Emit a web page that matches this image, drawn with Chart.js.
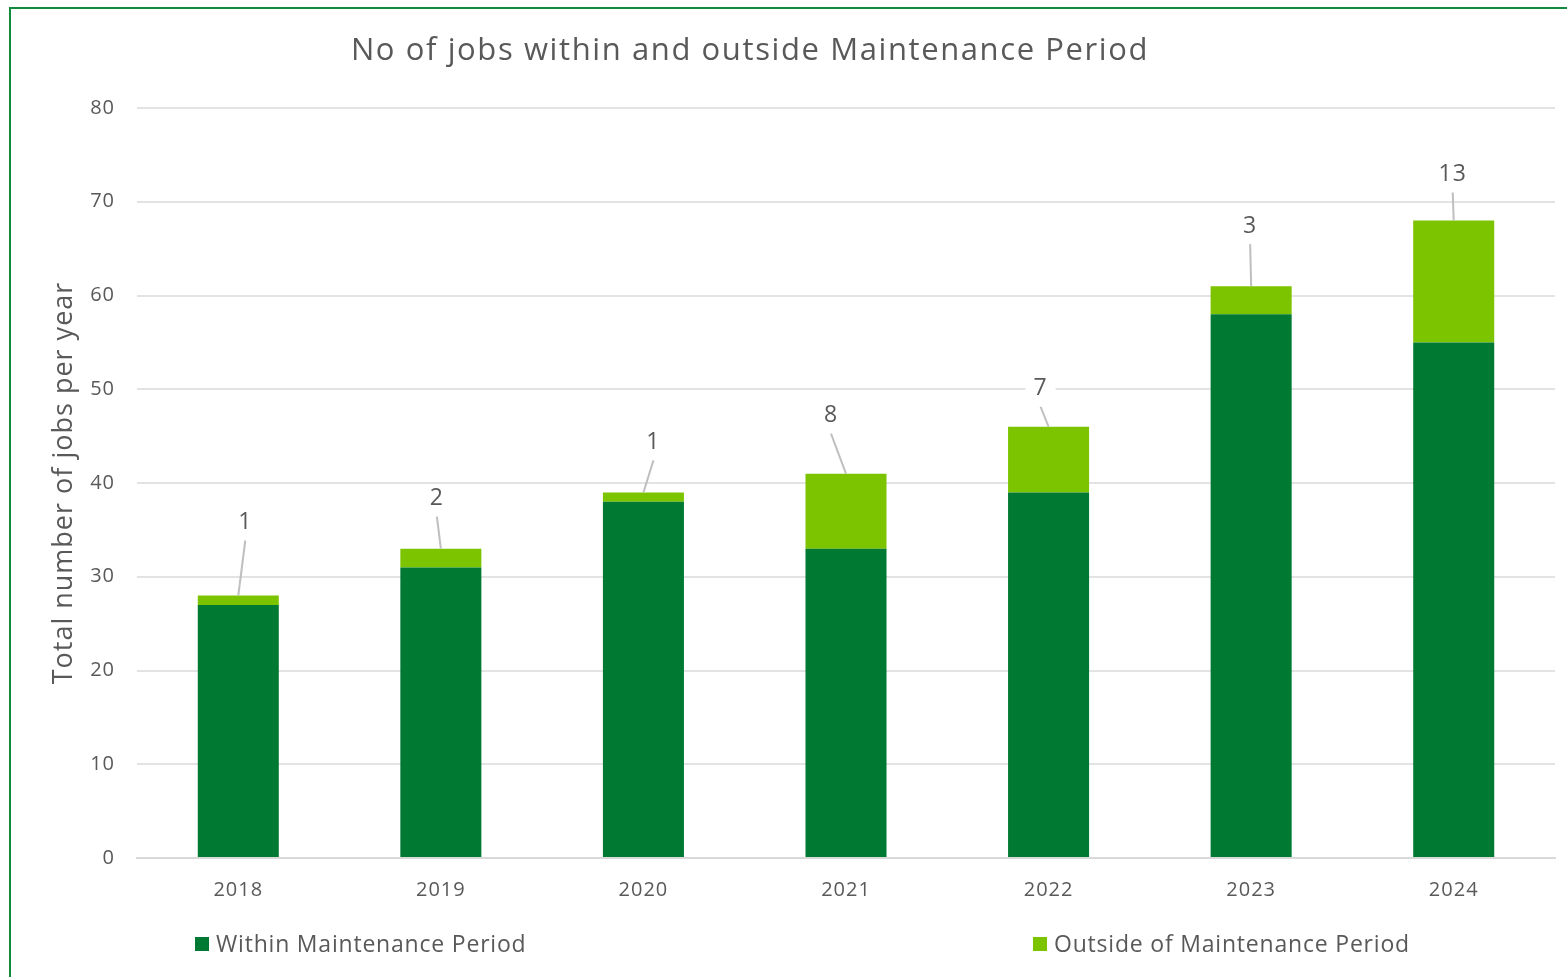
<!DOCTYPE html>
<html>
<head>
<meta charset="utf-8">
<script src="https://cdn.jsdelivr.net/npm/chart.js@4"></script>
<style>
  html, body { margin: 0; padding: 0; background: #fff; overflow: hidden; }
  body { width: 1567px; height: 977px; position: relative; font-family: "Open Sans", sans-serif; color: #595959; }
  .frame { position: absolute; left: 9px; top: 7px; width: 1600px; height: 1000px; border: 2px solid #128a3c; box-sizing: border-box; }
  #chart { position: absolute; left: 0; top: 0; }
  .title { position: absolute; left: 0; width: 1500px; top: 28px; text-align: center; font-size: 31px; letter-spacing: 1.6px; line-height: 40px; }
  .legend { position: absolute; top: 929px; font-size: 23px; letter-spacing: 0.8px; line-height: 28px; white-space: nowrap; }
  .legend span.box { display: inline-block; width: 14px; height: 14px; margin-right: 7px; vertical-align: 1px; }
</style>
</head>
<body>
<div class="frame"></div>
<canvas id="chart" width="1567" height="977"></canvas>
<div class="title">No of jobs within and outside Maintenance Period</div>
<div class="legend" style="left:195px"><span class="box" style="background:#007a33"></span>Within Maintenance Period</div>
<div class="legend" style="left:1033px"><span class="box" style="background:#7dc400"></span>Outside of Maintenance Period</div>
<script>
// data
const years = ['2018', '2019', '2020', '2021', '2022', '2023', '2024'];
const withinPeriod = [27, 31, 38, 33, 39, 58, 55];
const outsidePeriod = [1, 2, 1, 8, 7, 3, 13];
const yTicks = [0, 10, 20, 30, 40, 50, 60, 70, 80];

// where each callout label sits, relative to the top of its bar (px)
const calloutOffsets = [[7, -73], [-4, -50], [10, -50], [-15, -58], [-8, -38], [-1, -60], [-1, -46]];

// the original font is a bit tracked out, so space the canvas text too
const spacingPlugin = {
    id: 'spacing',
    beforeDraw(chart) {
        chart.ctx.letterSpacing = '1px';
    }
};

const calloutPlugin = {
    id: 'callouts',
    afterDatasetsDraw(chart) {
        const ctx = chart.ctx;
        const meta = chart.getDatasetMeta(1);
        ctx.save();
        ctx.font = '23px "Open Sans"';
        ctx.textAlign = 'center';
        ctx.textBaseline = 'middle';
        meta.data.forEach((bar, i) => {
            const off = calloutOffsets[i];
            const lx = bar.x + off[0];
            const ly = bar.y + off[1];
            // leader line
            ctx.strokeStyle = '#bfbfbf';
            ctx.lineWidth = 2;
            ctx.beginPath();
            ctx.moveTo(lx, ly + 18);
            ctx.lineTo(bar.x, bar.y);
            ctx.stroke();
            // white box behind the number
            const txt = String(outsidePeriod[i]);
            const w = ctx.measureText(txt).width + 16;
            ctx.fillStyle = '#fff';
            ctx.fillRect(lx - w / 2, ly - 14, w, 28);
            ctx.fillStyle = '#595959';
            ctx.fillText(txt, lx, ly);
        });
        ctx.restore();
    }
};

new Chart(document.getElementById('chart'), {
    type: 'bar',
    data: {
        labels: years,
        datasets: [{
            label: 'Within Maintenance Period',
            data: withinPeriod,
            backgroundColor: '#007a33'
        }, {
            label: 'Outside of Maintenance Period',
            data: outsidePeriod,
            backgroundColor: '#7dc400'
        }]
    },
    options: {
        responsive: false,
        animation: false,
        barPercentage: 0.4,
        categoryPercentage: 1,
        layout: { padding: { left: 40, top: 108, right: 12, bottom: 59 } },
        plugins: {
            legend: { display: false },
            tooltip: { enabled: false }
        },
        scales: {
            x: {
                stacked: true,
                grid: { display: false },
                border: { display: true, color: '#d9d9d9', width: 2 },
                ticks: { color: '#595959', font: { family: 'Open Sans', size: 20 }, padding: 12 },
                afterFit: (axis) => { axis.height = 60; }
            },
            y: {
                stacked: true,
                min: 0,
                max: 80,
                afterBuildTicks: (axis) => { axis.ticks = yTicks.map(v => ({ value: v })); },
                grid: { color: '#e3e3e3', lineWidth: 2, drawTicks: false },
                border: { display: false },
                ticks: { color: '#595959', font: { family: 'Open Sans', size: 20 }, padding: 22 },
                title: {
                    display: true,
                    text: 'Total number of jobs per year',
                    color: '#595959',
                    font: { family: 'Open Sans', size: 27 },
                    padding: { top: 8, bottom: 0 }
                },
                afterFit: (axis) => { axis.width = 97; }
            }
        }
    },
    plugins: [spacingPlugin, calloutPlugin]
});
</script>
</body>
</html>
